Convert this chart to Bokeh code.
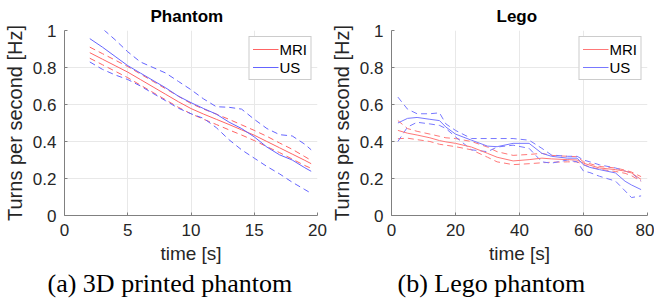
from bokeh.plotting import figure
from bokeh.models import Range1d, FixedTicker, NumeralTickFormatter, Title
from bokeh.layouts import row
from bokeh.embed import file_html
from bokeh.resources import INLINE

# ---------------- data ----------------
phantom_time = [2, 3, 4, 5, 6, 7, 8, 9, 10, 11, 12, 13, 14, 15, 16, 17, 18, 19, 19.5]
phantom_mri_mean = [0.88, 0.845, 0.81, 0.775, 0.735, 0.695, 0.655, 0.615, 0.578, 0.548, 0.52,
                    0.492, 0.463, 0.434, 0.40, 0.366, 0.332, 0.298, 0.28]
phantom_mri_upper = [0.91, 0.875, 0.84, 0.805, 0.765, 0.725, 0.685, 0.645, 0.605, 0.575, 0.548,
                     0.52, 0.49, 0.46, 0.428, 0.392, 0.358, 0.318, 0.298]
phantom_mri_lower = [0.85, 0.815, 0.78, 0.745, 0.705, 0.665, 0.625, 0.585, 0.55, 0.52, 0.492,
                     0.463, 0.435, 0.405, 0.372, 0.34, 0.305, 0.27, 0.255]
phantom_us_mean = [0.956, 0.91, 0.86, 0.81, 0.77, 0.73, 0.69, 0.645, 0.61, 0.578, 0.548,
                   0.505, 0.47, 0.425, 0.37, 0.328, 0.30, 0.258, 0.239]
phantom_us_upper = [1.08, 1.01, 0.95, 0.885, 0.83, 0.80, 0.77, 0.725, 0.68, 0.63, 0.588,
                    0.585, 0.575, 0.52, 0.47, 0.437, 0.43, 0.385, 0.355]
phantom_us_lower = [0.83, 0.79, 0.76, 0.735, 0.70, 0.66, 0.62, 0.58, 0.55, 0.525, 0.475,
                    0.41, 0.355, 0.31, 0.265, 0.225, 0.18, 0.14, 0.12]

lego_time = [2, 5, 8, 12, 15, 17, 20, 25, 30, 33, 38, 43, 47, 50, 55, 58, 60, 62, 65, 70, 73, 75, 78]
lego_mri_mean = [0.46, 0.445, 0.435, 0.42, 0.405, 0.398, 0.39, 0.37, 0.336, 0.315, 0.295, 0.302,
                 0.31, 0.306, 0.302, 0.30, 0.283, 0.272, 0.257, 0.248, 0.24, 0.23, 0.195]
lego_mri_upper = [0.513, 0.47, 0.455, 0.44, 0.428, 0.42, 0.416, 0.40, 0.37, 0.345, 0.325, 0.33,
                  0.336, 0.325, 0.32, 0.318, 0.29, 0.28, 0.265, 0.257, 0.245, 0.235, 0.21]
lego_mri_lower = [0.415, 0.418, 0.41, 0.40, 0.385, 0.38, 0.372, 0.355, 0.315, 0.29, 0.275, 0.28,
                  0.285, 0.288, 0.29, 0.29, 0.275, 0.262, 0.25, 0.238, 0.228, 0.215, 0.185]
lego_us_mean = [0.50, 0.525, 0.53, 0.52, 0.513, 0.478, 0.44, 0.407, 0.375, 0.372, 0.39, 0.39,
                0.336, 0.32, 0.31, 0.31, 0.274, 0.26, 0.248, 0.23, 0.185, 0.165, 0.14]
lego_us_upper = [0.64, 0.575, 0.55, 0.55, 0.555, 0.495, 0.46, 0.416, 0.416, 0.416, 0.416, 0.407,
                 0.363, 0.327, 0.32, 0.32, 0.30, 0.29, 0.274, 0.257, 0.24, 0.23, 0.186]
lego_us_lower = [0.40, 0.478, 0.504, 0.495, 0.487, 0.47, 0.425, 0.355, 0.345, 0.37, 0.38, 0.363,
                 0.29, 0.283, 0.30, 0.29, 0.24, 0.232, 0.212, 0.186, 0.133, 0.097, 0.106]

y_ticks = [0, 0.2, 0.4, 0.6, 0.8, 1]
phantom_x_ticks = [0, 5, 10, 15, 20]
lego_x_ticks = [0, 20, 40, 60, 80]

SANS = "Liberation Sans"
SERIF = "Liberation Serif"
TXT = "#262626"


def make_panel(title, caption, t, mri, mri_up, mri_lo, us, us_up, us_lo, xmax, xticks,
               border_left, border_right, red, blue, title_offset, caption_offset):
    p = figure(width=327, height=302, output_backend="svg", toolbar_location=None,
               x_range=Range1d(0, xmax), y_range=Range1d(0, 1),
               min_border_left=border_left, min_border_right=border_right,
               min_border_top=27, min_border_bottom=87)
    p.outline_line_color = None
    p.background_fill_color = "white"
    p.border_fill_color = "white"

    p.title.text = title
    p.title.align = "left"
    p.title.offset = title_offset
    p.title.text_font = SANS
    p.title.text_font_size = "17px"
    p.title.text_font_style = "bold"
    p.title.text_color = "black"
    p.title.standoff = 9

    for ax in (p.xaxis[0], p.yaxis[0]):
        ax.axis_line_color = "#808080"
        ax.major_tick_line_color = "#808080"
        ax.major_tick_in = 3
        ax.major_tick_out = 0
        ax.minor_tick_line_color = None
        ax.major_label_text_font = SANS
        ax.major_label_text_font_size = "17px"
        ax.major_label_text_color = TXT
        ax.axis_label_text_font = SANS
        ax.axis_label_text_font_style = "normal"
        ax.axis_label_text_color = TXT

    p.xaxis.axis_label_text_font_size = "19px"
    p.yaxis.axis_label_text_font_size = "20px"
    p.xaxis.ticker = FixedTicker(ticks=xticks)
    p.yaxis.ticker = FixedTicker(ticks=y_ticks)
    p.yaxis.formatter = NumeralTickFormatter(format="0.[0]")
    p.xaxis.axis_label = "time [s]"
    p.yaxis.axis_label = "Turns per second [Hz]"
    p.xaxis.major_label_standoff = 8
    p.xaxis.axis_label_standoff = 4
    p.yaxis.major_label_standoff = 8
    p.yaxis.axis_label_standoff = 4

    p.grid.grid_line_color = "#e8e8e8"
    p.grid.grid_line_width = 1

    p.line(t, mri_up, line_color=red, line_width=1, line_dash="6 4")
    p.line(t, mri_lo, line_color=red, line_width=1, line_dash="6 4")
    p.line(t, us_up, line_color=blue, line_width=1, line_dash="6 4")
    p.line(t, us_lo, line_color=blue, line_width=1, line_dash="6 4")
    p.line(t, mri, line_color=red, line_width=1, legend_label="MRI")
    p.line(t, us, line_color=blue, line_width=1, legend_label="US")

    lg = p.legend[0]
    lg.location = "top_right"
    lg.margin = 6
    lg.padding = 3
    lg.spacing = 0
    lg.glyph_width = 26
    lg.glyph_height = 18
    lg.label_height = 18
    lg.label_standoff = 1
    lg.label_text_font = SANS
    lg.label_text_font_size = "15px"
    lg.label_text_color = "black"
    lg.border_line_color = "#999999"
    lg.border_line_width = 1
    lg.background_fill_alpha = 1.0

    cap = Title(text=caption, align="left", offset=caption_offset, text_font=SERIF,
                text_font_size="26px", text_font_style="normal", text_color="black",
                standoff=0)
    p.add_layout(cap, "below")
    return p


p1 = make_panel("Phantom", "(a) 3D printed phantom", phantom_time,
                phantom_mri_mean, phantom_mri_upper, phantom_mri_lower,
                phantom_us_mean, phantom_us_upper, phantom_us_lower,
                20, phantom_x_ticks, 61, 10, "#ff6464", "#6464ff", 86, -17)
p2 = make_panel("Lego", "(b) Lego phantom", lego_time,
                lego_mri_mean, lego_mri_upper, lego_mri_lower,
                lego_us_mean, lego_us_upper, lego_us_lower,
                80, lego_x_ticks, 63, 7, "#ff7878", "#7878ff", 105, 6)

layout = row(p1, p2)
open("out.html", "w").write(file_html(layout, INLINE))
